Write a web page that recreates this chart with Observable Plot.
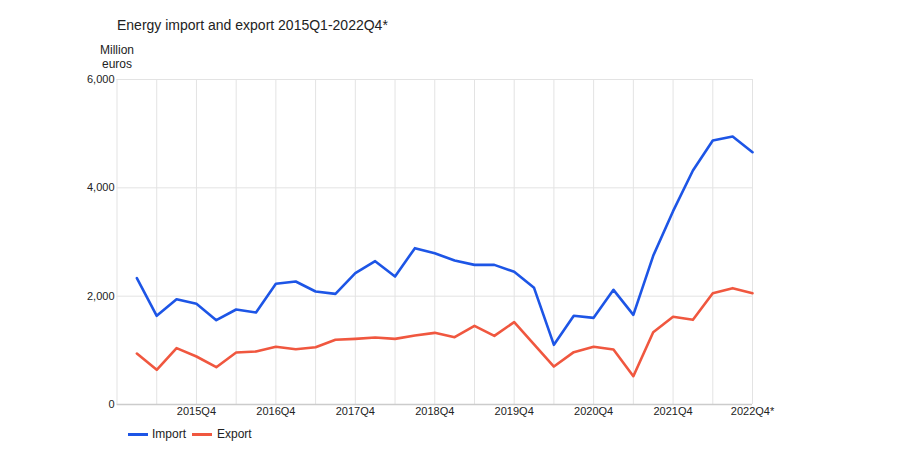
<!DOCTYPE html>
<html>
<head>
<meta charset="utf-8">
<script src="https://cdn.jsdelivr.net/npm/d3@7"></script>
<script src="https://cdn.jsdelivr.net/npm/@observablehq/plot@0.6"></script>
<style>
  body { margin: 0; background: #fff; font-family: Arial, "Liberation Sans", sans-serif; }
  #wrap { position: relative; width: 900px; height: 450px; }
  #title { height: 40px; box-sizing: border-box; padding: 17px 0 0 117px; font-size: 14px; line-height: 16px; color: #222; }
  #ylab { position: absolute; left: 87px; top: 43px; width: 60px; text-align: center; font-size: 12px; line-height: 14px; color: #222; }
  #legend { position: absolute; left: 0; top: 425px; height: 18px; width: 900px; font-size: 12px; color: #222; }
  .item { position: absolute; top: 0; height: 18px; line-height: 18px; }
  .swatch { position: absolute; top: 8px; width: 20px; height: 2.5px; }
  svg { display: block; }
</style>
</head>
<body>
<div id="wrap">
  <div id="title">Energy import and export 2015Q1-2022Q4*</div>
  <div id="ylab">Million<br>euros</div>
  <div id="chart"></div>
  <div id="legend"></div>
</div>
<script>
// Quarters 2015Q1 .. 2022Q4 (index 1..32; index 0 = 2014Q4, start of axis)
const quarters = [
  "2015Q1","2015Q2","2015Q3","2015Q4",
  "2016Q1","2016Q2","2016Q3","2016Q4",
  "2017Q1","2017Q2","2017Q3","2017Q4",
  "2018Q1","2018Q2","2018Q3","2018Q4",
  "2019Q1","2019Q2","2019Q3","2019Q4",
  "2020Q1","2020Q2","2020Q3","2020Q4",
  "2021Q1","2021Q2","2021Q3","2021Q4",
  "2022Q1","2022Q2","2022Q3","2022Q4*"
];
const importValues = [
  2332, 1637, 1944, 1858,
  1556, 1754, 1698, 2228,
  2271, 2086, 2043, 2424,
  2646, 2363, 2886, 2793,
  2658, 2578, 2578, 2450,
  2154, 1102, 1637, 1600,
  2117, 1655, 2745, 3569,
  4320, 4873, 4947, 4658
];
const exportValues = [
  941, 640, 1040, 886,
  689, 960, 978, 1065,
  1021, 1058, 1194, 1212,
  1237, 1212, 1274, 1323,
  1243, 1452, 1268, 1520,
  1108, 701, 966, 1065,
  1015, 523, 1335, 1619,
  1563, 2055, 2148, 2055
];
const tickLabels = ["2015Q4","2016Q4","2017Q4","2018Q4","2019Q4","2020Q4","2021Q4","2022Q4*"];
const yTicks = [0, 2000, 4000, 6000];
const seriesNames = ["Import", "Export"];
const seriesColors = ["#1d55e6", "#f0573f"];

const rows = [];
quarters.forEach((q, i) => {
  rows.push({idx: i + 1, q, series: "Import", value: importValues[i]});
  rows.push({idx: i + 1, q, series: "Export", value: exportValues[i]});
});
const tickIdx = tickLabels.map((t, k) => (k + 1) * 4);
const gridIdx = d3.range(0, 33, 2);

const chart = Plot.plot({
  width: 900,
  height: 385,
  marginLeft: 116.5,
  marginRight: 148,
  marginTop: 39,
  marginBottom: 21,
  style: { fontFamily: 'Arial, "Liberation Sans", sans-serif', fontSize: "11px", color: "#222", background: "#fff" },
  x: { domain: [0, 32], axis: null, label: null },
  y: { domain: [0, 6000], axis: null, label: null },
  color: { domain: seriesNames, range: seriesColors },
  marks: [
    Plot.ruleX(gridIdx, { x: d => d, stroke: "#e3e3e3", strokeWidth: 1 }),
    Plot.ruleY(yTicks.filter(v => v > 0), { y: d => d, stroke: "#e3e3e3", strokeWidth: 1 }),
    Plot.ruleY([0], { stroke: "#cccccc", strokeWidth: 1.5 }),
    Plot.line(rows, { x: "idx", y: "value", z: "series", stroke: "series", strokeWidth: 2.6, strokeLinejoin: "round", strokeLinecap: "round" }),
    Plot.axisX(tickIdx, { label: null, tickSize: 0, tickPadding: 3, tickFormat: (d, i) => tickLabels[i], fontSize: 11, fill: "#222" }),
    Plot.axisY(yTicks, { label: null, tickSize: 0, tickPadding: 2.5, tickFormat: d3.format(",d"), fontSize: 11, fill: "#222" })
  ]
});
document.getElementById("chart").appendChild(chart);

// Legend
const legend = document.getElementById("legend");
const legendPos = [{sw: 128, tx: 152}, {sw: 192, tx: 217}];
seriesNames.forEach((name, i) => {
  const sw = document.createElement("div");
  sw.className = "swatch";
  sw.style.left = legendPos[i].sw + "px";
  sw.style.background = seriesColors[i];
  legend.appendChild(sw);
  const t = document.createElement("div");
  t.className = "item";
  t.style.left = legendPos[i].tx + "px";
  t.textContent = name;
  legend.appendChild(t);
});
</script>
</body>
</html>
